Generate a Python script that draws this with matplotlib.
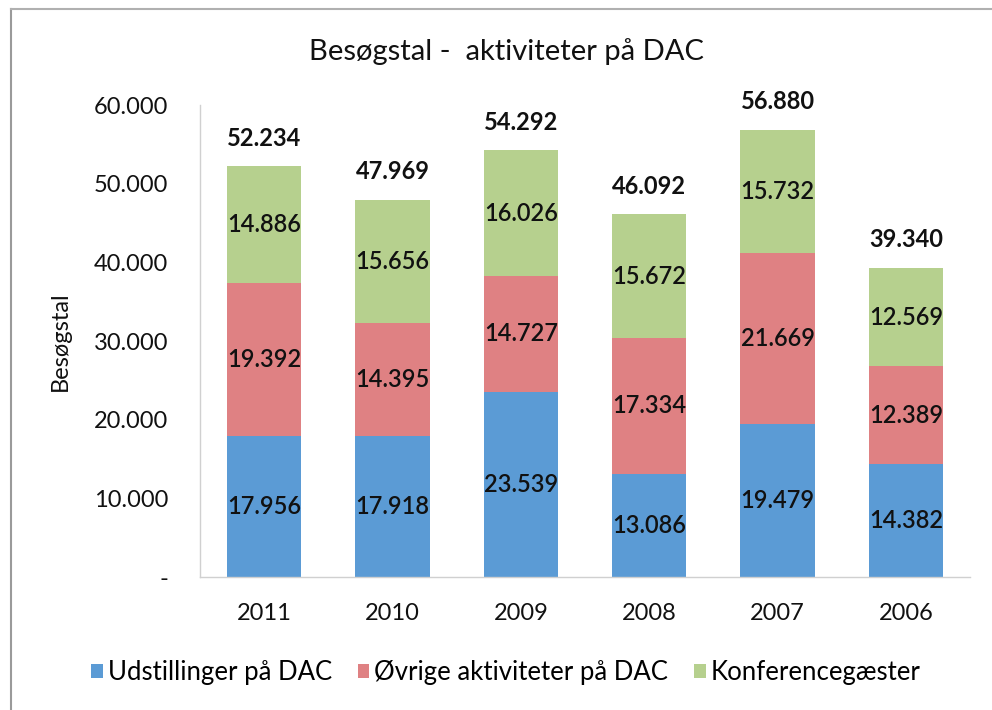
# Besøgstal - aktiviteter på DAC
# Stacked column chart recreated from an Excel chart (scanned)

import matplotlib.pyplot as plt
from matplotlib.lines import Line2D
from matplotlib.ticker import FuncFormatter

# -------------------------------------------------
# DATA
# -------------------------------------------------
years = ["2011", "2010", "2009", "2008", "2007", "2006"]
udstillinger = [17956, 17918, 23539, 13086, 19479, 14382]
oevrige = [19392, 14395, 14727, 17334, 21669, 12389]
konference = [14886, 15656, 16026, 15672, 15732, 12569]

series_names = ["Udstillinger på DAC", "Øvrige aktiviteter på DAC", "Konferencegæster"]
colors = ["#5B9BD5", "#DF8183", "#B6D08E"]


def dk(v):
    # Danish thousands separator, Excel-style dash for zero
    if v == 0:
        return "-"
    return f"{int(v):,}".replace(",", ".")


def main():
    plt.rcParams["font.family"] = ["Lato", "DejaVu Sans"]

    fig = plt.figure(figsize=(9.92, 7.10), dpi=100)
    ax = fig.add_axes([0.2016, 0.1873, 0.7764, 0.6647])

    x = range(len(years))
    bottoms = [0] * len(years)
    for name, vals, col in zip(series_names, [udstillinger, oevrige, konference], colors):
        bars = ax.bar(x, vals, width=0.58, bottom=bottoms, color=col, label=name)
        ax.bar_label(bars, labels=[dk(v) for v in vals], label_type="center",
                     fontsize=17, fontweight="semibold", color="#111111")
        bottoms = [b + v for b, v in zip(bottoms, vals)]

    # totals above each column
    for i, tot in enumerate(bottoms):
        ax.annotate(dk(tot), (i, tot), xytext=(0, 20), textcoords="offset points",
                    ha="center", va="center", fontsize=17, fontweight="bold",
                    color="#111111")

    ax.set_xlim(-0.5, len(years) - 0.5)
    ax.set_ylim(0, 60000)
    ax.set_yticks(range(0, 60001, 10000))
    ax.yaxis.set_major_formatter(FuncFormatter(lambda v, p: dk(v)))
    ax.set_xticks(list(x))
    ax.set_xticklabels(years)
    ax.tick_params(axis="both", length=0, labelsize=17, colors="#111111")
    ax.tick_params(axis="y", pad=23)
    ax.tick_params(axis="x", pad=19)

    for side in ["top", "right"]:
        ax.spines[side].set_visible(False)
    for side in ["left", "bottom"]:
        ax.spines[side].set_color("#D0D0D0")
        ax.spines[side].set_linewidth(1)

    ax.set_ylabel("Besøgstal", fontsize=17, color="#111111")
    ax.yaxis.set_label_coords(-0.168, 0.5)

    fig.text(0.511, 0.928, "Besøgstal -  aktiviteter på DAC", ha="center", va="center",
             fontsize=21, color="#111111")

    fig.legend(loc="center", bbox_to_anchor=(0.51, 0.053), ncol=3, frameon=False,
               fontsize=18.5, handlelength=0.45, handleheight=0.45, handletextpad=0.2,
               columnspacing=1.0)

    # scanned frame around the chart
    fig.add_artist(Line2D([0.011, 0.011], [0.0, 0.988], color="#9A9A9A", lw=1.5))
    fig.add_artist(Line2D([0.011, 1.0], [0.988, 0.988], color="#B0B0B0", lw=1.5))

    fig.savefig("out.png", dpi=100, facecolor="white")
    plt.close(fig)


if __name__ == "__main__":
    main()
